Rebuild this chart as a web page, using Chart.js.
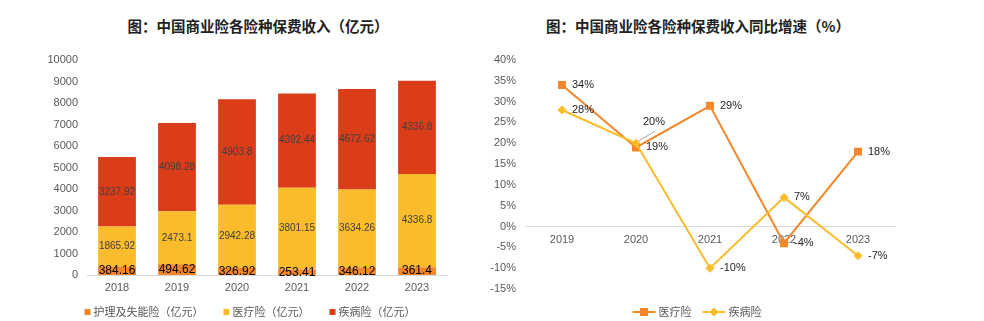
<!DOCTYPE html>
<html>
<head>
<meta charset="utf-8">
<script src="https://cdn.jsdelivr.net/npm/chart.js@4.4.1/dist/chart.umd.min.js"></script>
<style>
  body { margin: 0; background: #fff; width: 984px; height: 321px; overflow: hidden; position: relative; }
  .title {
    position: absolute; top: 16px; transform: translateX(-50%);
    font-family: "Noto Sans CJK SC", sans-serif; font-weight: bold; font-size: 14.5px;
    line-height: 20px; color: #222; white-space: nowrap;
  }
  .box { position: absolute; top: 0; height: 321px; }
</style>
</head>
<body>
<div class="title" style="left:258px">图：中国商业险各险种保费收入（亿元）</div>
<div class="title" style="left:698px">图：中国商业险各险种保费收入同比增速（%）</div>
<div class="box" style="left:0;width:492px"><canvas id="incomeChart" width="492" height="321"></canvas></div>
<div class="box" style="left:488px;width:496px"><canvas id="growthChart" width="496" height="321"></canvas></div>

<script>
// ---- data ----
const years = ["2018", "2019", "2020", "2021", "2022", "2023"];
const nursingIncome = [384.16, 494.62, 326.92, 253.41, 346.12, 361.4];
const medicalIncome = [1865.92, 2473.1, 2942.28, 3801.15, 3634.26, 4336.8];
const illnessIncome = [3237.92, 4098.28, 4903.8, 4392.44, 4672.62, 4336.8];

const growthYears = ["2019", "2020", "2021", "2022", "2023"];
const medicalGrowth = [34, 19, 29, -4, 18];
const illnessGrowth = [28, 20, -10, 7, -7];

const ORANGE = "#F4862A";
const YELLOW = "#FBBC2C";
const RED = "#DC3D19";
const TICK_COLOR = "#595959";
const LATIN = '"Liberation Sans", Arial, sans-serif';
const CJK = '"Noto Sans CJK SC", sans-serif';

// value labels drawn on top of bars / points
const valueLabels = {
    id: "valueLabels",
    afterDatasetsDraw(chart, _args, opts) {
        const ctx = chart.ctx;
        ctx.save();
        chart.data.datasets.forEach((ds, di) => {
            const meta = chart.getDatasetMeta(di);
            ctx.font = ds.labelFont;
            ctx.fillStyle = ds.labelColor;
            ctx.textBaseline = "middle";
            meta.data.forEach((el, i) => {
                const v = ds.data[i];
                const text = opts.format ? opts.format(v) : String(v);
                if (meta.type === "bar") {
                    ctx.textAlign = "center";
                    ctx.fillText(text, el.x, (el.y + el.base) / 2);
                } else {
                    const ov = (opts.overrides || []).find((o) => o.dataset === di && o.index === i);
                    ctx.textAlign = "left";
                    if (ov) {
                        ctx.strokeStyle = "#a6a6a6";
                        ctx.lineWidth = 1;
                        ctx.beginPath();
                        ctx.moveTo(el.x + 19, el.y - 12);
                        ctx.lineTo(el.x + 2, el.y - 2);
                        ctx.stroke();
                        ctx.fillText(text, el.x + ov.dx, el.y + ov.dy);
                    } else {
                        ctx.fillText(text, el.x + 10, el.y);
                    }
                }
            });
        });
        ctx.restore();
    }
};

function drawMarker(ctx, style, x, y, color) {
    ctx.fillStyle = color;
    ctx.beginPath();
    if (style === "rectRot") {
        ctx.moveTo(x, y - 4.5);
        ctx.lineTo(x + 4.5, y);
        ctx.lineTo(x, y + 4.5);
        ctx.lineTo(x - 4.5, y);
        ctx.closePath();
    } else {
        ctx.rect(x - 4, y - 4, 8, 8);
    }
    ctx.fill();
}

// legend centred under each chart
const bottomLegend = {
    id: "bottomLegend",
    afterDraw(chart, _args, opts) {
        const ctx = chart.ctx;
        ctx.save();
        ctx.font = opts.font;
        const items = chart.data.datasets.map((ds) => ({
            ds,
            w: opts.symbolWidth + opts.symbolGap + ctx.measureText(ds.label).width
        }));
        const total = items.reduce((s, it) => s + it.w, 0) + opts.itemGap * (items.length - 1);
        let x = opts.centerX - total / 2;
        const y = opts.y;
        items.forEach((it) => {
            const color = it.ds.borderColor || it.ds.backgroundColor;
            if (opts.kind === "box") {
                ctx.fillStyle = it.ds.backgroundColor;
                ctx.fillRect(x, y - 3, 6, 6);
            } else {
                ctx.strokeStyle = color;
                ctx.lineWidth = 2;
                ctx.beginPath();
                ctx.moveTo(x, y);
                ctx.lineTo(x + opts.symbolWidth, y);
                ctx.stroke();
                drawMarker(ctx, it.ds.pointStyle, x + opts.symbolWidth / 2, y, color);
            }
            ctx.fillStyle = TICK_COLOR;
            ctx.textAlign = "left";
            ctx.textBaseline = "middle";
            ctx.fillText(it.ds.label, x + opts.symbolWidth + opts.symbolGap, y);
            x += it.w + opts.itemGap;
        });
        ctx.restore();
    }
};

// ---- left: stacked bars ----
new Chart(document.getElementById("incomeChart"), {
    type: "bar",
    data: {
        labels: years,
        datasets: [
            { label: "护理及失能险（亿元）", data: nursingIncome, backgroundColor: ORANGE,
              labelFont: `12px ${LATIN}`, labelColor: "#000" },
            { label: "医疗险（亿元）", data: medicalIncome, backgroundColor: YELLOW,
              labelFont: `10px ${LATIN}`, labelColor: "#404040" },
            { label: "疾病险（亿元）", data: illnessIncome, backgroundColor: RED,
              labelFont: `10px ${LATIN}`, labelColor: "#404040" }
        ]
    },
    options: {
        responsive: false,
        devicePixelRatio: 1,
        animation: false,
        layout: { padding: { top: 60, left: 0, right: 45, bottom: 26 } },
        datasets: { bar: { categoryPercentage: 1, barPercentage: 0.63 } },
        scales: {
            x: {
                stacked: true,
                grid: { display: false, drawTicks: false },
                border: { display: true, color: "#d9d9d9", width: 1 },
                ticks: { color: TICK_COLOR, font: { family: LATIN, size: 11 }, padding: 6 },
                afterFit: (s) => { s.height = 20; }
            },
            y: {
                stacked: true,
                min: 0, max: 10000,
                grid: { display: false, drawTicks: false },
                border: { display: false },
                ticks: { stepSize: 1000, color: TICK_COLOR, font: { family: LATIN, size: 11 }, padding: 9,
                         callback: (v) => String(v) },
                afterFit: (s) => { s.width = 87; }
            }
        },
        plugins: {
            legend: { display: false },
            tooltip: { enabled: false },
            valueLabels: {},
            bottomLegend: { kind: "box", font: `11px ${CJK}`, symbolWidth: 6, symbolGap: 3,
                            itemGap: 20, centerX: 250, y: 312 }
        }
    },
    plugins: [valueLabels, bottomLegend]
});

// ---- right: growth lines ----
new Chart(document.getElementById("growthChart"), {
    type: "line",
    data: {
        labels: growthYears,
        datasets: [
            { label: "医疗险", data: medicalGrowth, borderColor: ORANGE, backgroundColor: ORANGE,
              pointStyle: "rect", pointRadius: 5.6, pointBorderWidth: 0, borderWidth: 2, order: 2,
              labelFont: `11px ${LATIN}`, labelColor: "#262626" },
            { label: "疾病险", data: illnessGrowth, borderColor: YELLOW, backgroundColor: YELLOW,
              pointStyle: "rectRot", pointRadius: 4.5, pointBorderWidth: 0, borderWidth: 2, order: 1,
              labelFont: `11px ${LATIN}`, labelColor: "#262626" }
        ]
    },
    options: {
        responsive: false,
        devicePixelRatio: 1,
        animation: false,
        layout: { padding: { top: 60, left: 0, right: 89, bottom: 32 } },
        scales: {
            x: {
                position: { y: 0 },
                offset: true,
                grid: { display: false, drawTicks: false },
                border: { display: true, color: "#d9d9d9", width: 1 },
                ticks: { color: TICK_COLOR, font: { family: LATIN, size: 11 }, padding: 7 }
            },
            y: {
                min: -15, max: 40,
                grid: { display: false, drawTicks: false },
                border: { display: false },
                ticks: { stepSize: 5, color: TICK_COLOR, font: { family: LATIN, size: 11 }, padding: 9,
                         callback: (v) => v + "%" },
                afterFit: (s) => { s.width = 37; }
            }
        },
        plugins: {
            legend: { display: false },
            tooltip: { enabled: false },
            valueLabels: { format: (v) => v + "%", overrides: [{ dataset: 1, index: 1, dx: 7, dy: -21 }] },
            bottomLegend: { kind: "line", font: `11px ${CJK}`, symbolWidth: 23, symbolGap: 3,
                            itemGap: 11, centerX: 209, y: 312 }
        }
    },
    plugins: [valueLabels, bottomLegend]
});
</script>
</body>
</html>
